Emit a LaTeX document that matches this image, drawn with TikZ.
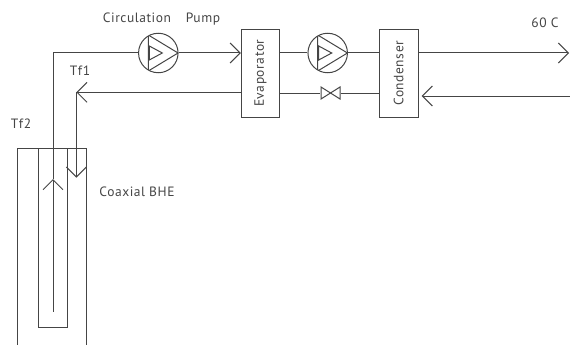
\documentclass[tikz,border=0pt]{standalone}
\usepackage{graphicx}
\usepackage{fontspec}
\setmainfont{PT Sans}[LetterSpace=4]
\usetikzlibrary{arrows.meta,positioning}
\definecolor{pipecol}{gray}{0.27}
\tikzset{
  main node/.style={draw=pipecol,line width=1pt,inner sep=0pt,minimum width=38.7pt,minimum height=88pt,text=pipecol,font=\fontsize{13.5}{14}\selectfont},
  pump node/.style={circle,draw=pipecol,line width=1pt,minimum size=39.5pt,inner sep=0pt,
    path picture={
      \draw[pipecol,line width=1pt] ([xshift=-10pt,yshift=18pt]path picture bounding box.center) -- ([xshift=-10pt,yshift=-18pt]path picture bounding box.center) -- (path picture bounding box.east) -- cycle;
      \draw[pipecol,line width=1pt] ([xshift=-9pt,yshift=7pt]path picture bounding box.center) -- ([xshift=-9pt,yshift=-7pt]path picture bounding box.center) -- ([xshift=4pt]path picture bounding box.center) -- cycle;
    }},
  valve node/.style={minimum width=20pt,minimum height=13pt,inner sep=0pt,
    path picture={
      \draw[pipecol,line width=1pt] ([shift={(0.5pt,0.5pt)}]path picture bounding box.south west) -- ([shift={(-0.5pt,-0.5pt)}]path picture bounding box.north east) -- ([shift={(-0.5pt,0.5pt)}]path picture bounding box.south east) -- ([shift={(0.5pt,-0.5pt)}]path picture bounding box.north west) -- cycle;
    }},
  text node/.style={text=pipecol,inner sep=0pt,font=\fontsize{13.5}{14}\selectfont},
  pipe/.style={draw=pipecol,line width=1pt},
  flow/.style={pipe,-{Straight Barb[length=10pt,width=20pt,line width=1pt]}},
}
\begin{document}
\begin{tikzpicture}[x=1pt,y=-1pt]
    \useasboundingbox (0,0) rectangle (570,345);

    \node[pump node] (pump1) at (158.3,53) {};
    \node[main node] (evap) [right = 62.2pt of pump1,yshift=-20.3pt] {\rotatebox{90}{Evaporator}};
    \node[main node] (cond) [right = 98.4pt of evap] {\rotatebox{90}{Condenser}};
    \node[pump node] (pump2) at (327.7,53) {};
    \node[valve node] (valve) at (330.5,93) {};
    \node[draw=pipecol,line width=1pt,minimum width=29.3pt,minimum height=179pt,inner sep=0pt] (inner) at (52.7,237.8) {};

    \node[text node] (title) at (161.5,19) {Circulation\hspace{1.1em}Pump};
    \node[text node] (tf1) at (80,71) {Tf1};
    \node[text node] (tf2) at (21,124) {Tf2};
    \node[text node] (bhe) at (137,192) {Coaxial BHE};
    \node[text node] (temp) at (545,23) {60 C};

    \coordinate (c1) at (53,53);
    \coordinate (c2) at (76.3,92.3);
    \coordinate (up) at (53,179);
    \coordinate (bot) at (53,311.7);
    \coordinate (down) at (76.3,177.7);
    \coordinate (out) at (569,53);
    \coordinate (back) at (421.7,96);
    \coordinate (backend) at (570,96);

    \draw[pipe] (pump1) -- (c1) -- (up);
    \draw[flow] (bot) -- (up);
    \draw[flow] (pump1) -- (evap.west |- pump1);
    \draw[flow] (evap.west |- c2) -- (c2);
    \draw[flow] (c2) -- (down);
    \draw[pipe] (evap.east |- pump2) -- (pump2);
    \draw[pipe] (pump2) -- (cond.west |- pump2);
    \draw[pipe] (evap.east |- valve) -- (valve.west);
    \draw[pipe] (valve.east) -- (cond.west |- valve);
    \draw[flow] (cond.east |- out) -- (out);
    \draw[flow] (backend) -- (back);
    %% borehole wall, open at the bottom
    \draw[pipe] (17,345) -- (17,148.3) -- (86,148.3) -- (86,345);
\end{tikzpicture}
\end{document}
